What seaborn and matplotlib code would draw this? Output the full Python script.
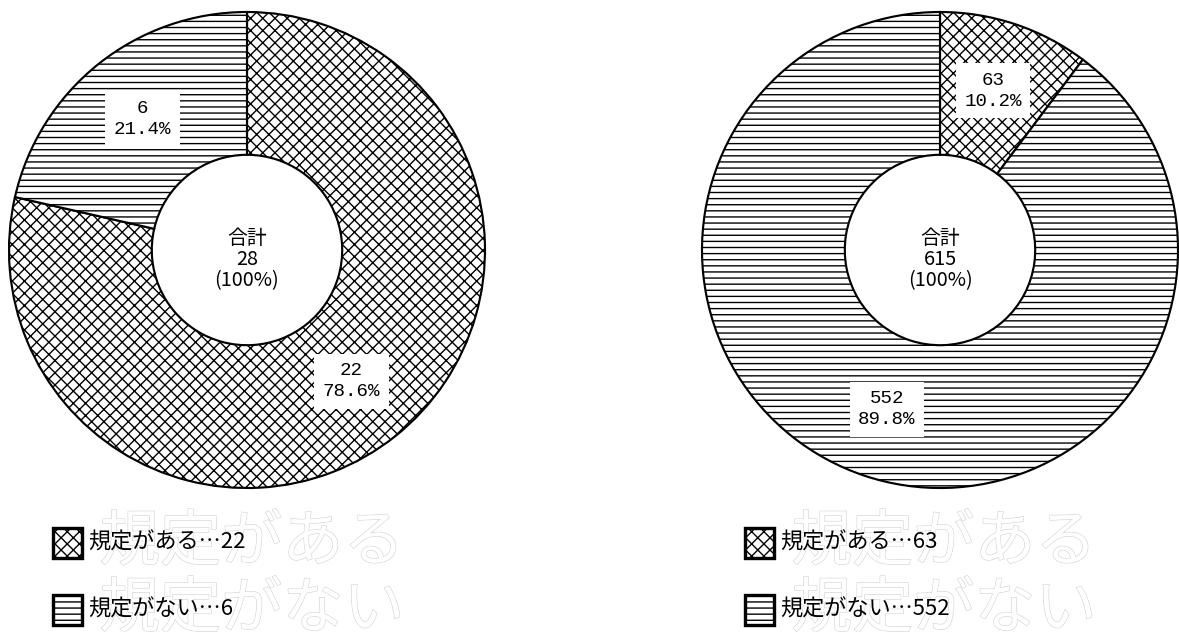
import matplotlib
matplotlib.use("Agg")
import matplotlib.pyplot as plt
import matplotlib.patheffects as pe
from matplotlib.patches import Rectangle
import seaborn as sns

# ── Data ─────────────────────────────────────────────────────────────────────
CATEGORIES   = ["規定がある", "規定がない"]
LEFT_VALUES  = [22, 6]
RIGHT_VALUES = [63, 552]
HATCHES      = ["xxx", "---"]
CENTER_TITLE = "合計"

# ── Style ────────────────────────────────────────────────────────────────────
sns.set_theme(style="white")
plt.rcParams["font.family"] = ["Noto Sans CJK JP", "DejaVu Sans"]
plt.rcParams["hatch.linewidth"] = 0.9

DPI  = 110
W, H = 1179, 632
fig = plt.figure(figsize=(W / DPI, H / DPI), dpi=DPI)


def px_rect(cx, cy, r):
    # axes rect from a centre / radius given in pixels (y from top)
    return [(cx - r) / W, (H - cy - r) / H, 2 * r / W, 2 * r / H]


def donut(ax, values):
    total = sum(values)
    wedges, _, autotexts = ax.pie(
        values, startangle=90, counterclock=False, radius=1.0,
        colors=["white"] * len(values),
        autopct=lambda p: f"{round(p * total / 100)}\n{p:.1f}%",
        pctdistance=0.705,
        wedgeprops=dict(width=0.6, edgecolor="black", linewidth=1.4),
        textprops=dict(family=["Liberation Mono"], fontsize=12.5, color="black"),
    )
    for w, h in zip(wedges, HATCHES):
        w.set_hatch(h)
        w.set_clip_on(False)
    for t in autotexts:
        t.set_linespacing(1.3)
        t.set_bbox(dict(facecolor="white", edgecolor="none", boxstyle="square,pad=0.45"))
    ax.text(0, -0.04, f"{CENTER_TITLE}\n{total}\n(100%)", ha="center", va="center",
            fontsize=13, linespacing=1.0, color="black")
    ax.set_xlim(-1, 1)
    ax.set_ylim(-1, 1)
    ax.set_aspect("equal")
    ax.axis("off")


ax_l = fig.add_axes(px_rect(247, 250, 238))
donut(ax_l, LEFT_VALUES)
ax_r = fig.add_axes(px_rect(940, 250, 238))
donut(ax_r, RIGHT_VALUES)


# ── Legends (manual, with faint outlined captions behind) ────────────────────
def legend(x_box, values):
    rows_y = [543, 610]
    for name, val, hatch, y in zip(CATEGORIES, values, HATCHES, rows_y):
        fig.text((x_box + 46) / W, 1 - y / H, name, fontsize=40, color="white",
                 ha="left", va="center", zorder=1,
                 path_effects=[pe.Stroke(linewidth=0.7, foreground="#cfcfcf"), pe.Normal()])
        fig.add_artist(Rectangle(((x_box) / W, 1 - (y + 15) / H), 29 / W, 30 / H,
                                 transform=fig.transFigure, facecolor="white",
                                 edgecolor="black", linewidth=2.2, hatch=hatch, zorder=2))
        fig.text((x_box + 35) / W, 1 - y / H, f"{name}…{val}", fontsize=14.5,
                 color="black", ha="left", va="center", zorder=3)


legend(53, LEFT_VALUES)
legend(745, RIGHT_VALUES)

fig.savefig("out.png", dpi=DPI, facecolor="white")
